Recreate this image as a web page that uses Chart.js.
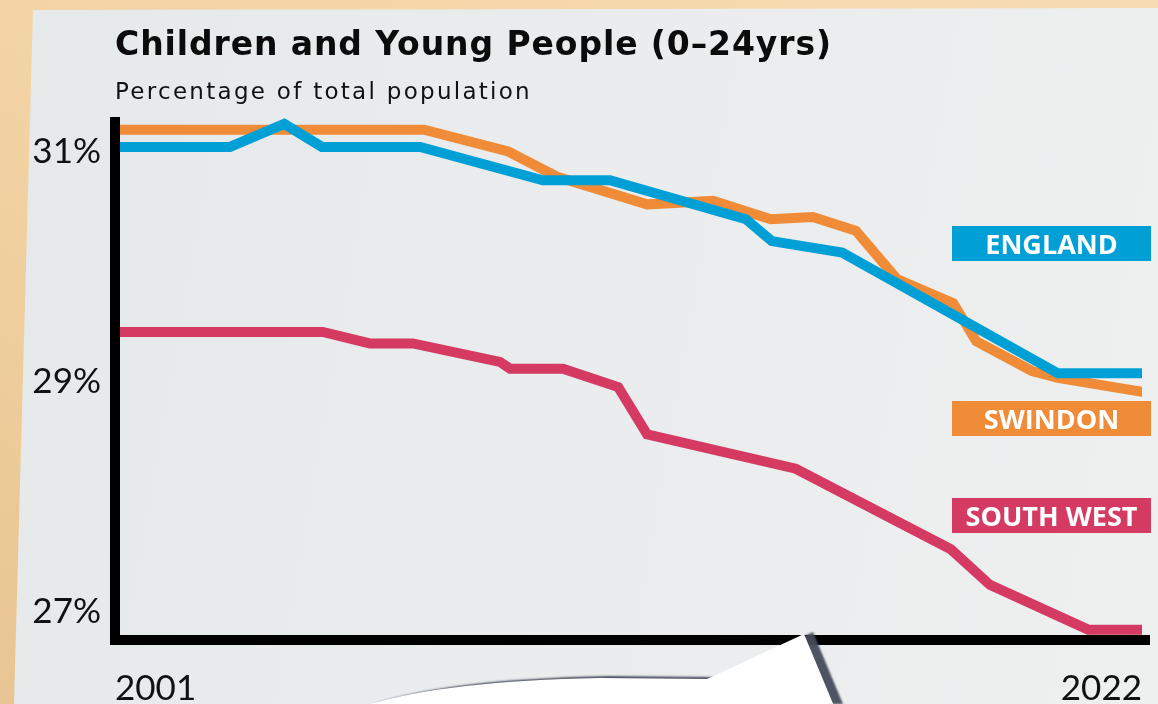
<!DOCTYPE html>
<html lang="en">
<head>
<meta charset="UTF-8">
<title>Children and Young People (0–24yrs)</title>
<script src="https://cdn.jsdelivr.net/npm/chart.js"></script>
<style>
  html, body { margin: 0; padding: 0; }
  body {
    width: 1158px; height: 704px; overflow: hidden; position: relative;
    background: linear-gradient(200deg, #f7dbb1 0%, #f2d2a2 50%, #e8c592 100%);
  }
  #paper {
    position: absolute; left: 0; top: 0; width: 1158px; height: 704px;
    background: linear-gradient(100deg, #e6e9ea 0%, #eaeced 50%, #eef0f0 100%);
    clip-path: polygon(33px 10px, 1158px 8px, 1158px 704px, 14px 704px);
  }
  #chart { position: absolute; left: 0; top: 0; }
  .title {
    position: absolute; left: 115px; top: 27px; margin: 0;
    font-family: 'DejaVu Sans'; font-size: 33px; line-height: 33px; font-weight: 700; color: #0b0b0b;
    white-space: nowrap;
  }
  .subtitle {
    position: absolute; left: 115px; top: 80px; margin: 0;
    font-family: 'DejaVu Sans'; font-size: 23px; line-height: 23px; font-weight: 400; color: #111;
    white-space: nowrap;
  }
  .tag {
    position: absolute; left: 952px; width: 199px; height: 35px;
    display: flex; align-items: center; justify-content: center;
    font-family: 'Open Sans'; color: #fff; font-weight: 700; font-size: 27px; line-height: 27px;
  }
  .tag span { white-space: nowrap; }
</style>
</head>
<body>
  <div id="paper"></div>
  <canvas id="chart" width="1158" height="704"></canvas>
  <h1 class="title"><span id="title-text">Children and Young People (0–24yrs)</span></h1>
  <p class="subtitle"><span id="subtitle-text">Percentage of total population</span></p>
  <div id="tags"></div>
<script>
  // tick labels
  const yearTicks = [2001, 2022];
  const pctTicks = [27, 29, 31];

  // series (year position, % of population)
  const englandYear = [2001, 2003.35, 2004.46, 2005.23, 2007.24, 2009.75, 2011.12, 2013.9, 2014.43, 2015.87, 2020.28, 2022];
  const englandPct  = [31.04, 31.04, 31.24, 31.04, 31.04, 30.75, 30.75, 30.41, 30.22, 30.12, 29.07, 29.07];

  const swindonYear = [2001, 2007.32, 2009.04, 2010.04, 2011.88, 2013.23, 2014.41, 2015.27, 2016.15, 2016.99, 2018.14, 2018.61, 2019.75, 2020.28, 2022];
  const swindonPct  = [31.19, 31.19, 31.0, 30.78, 30.54, 30.57, 30.41, 30.43, 30.31, 29.89, 29.68, 29.35, 29.09, 29.03, 28.91];

  const southWestYear = [2001, 2005.25, 2006.21, 2007.09, 2008.87, 2009.08, 2010.16, 2011.29, 2011.88, 2014.92, 2018.09, 2018.89, 2020.9, 2022];
  const southWestPct  = [29.43, 29.43, 29.33, 29.33, 29.17, 29.11, 29.11, 28.95, 28.54, 28.24, 27.54, 27.23, 26.84, 26.84];

  const seriesNames = ['England', 'Swindon', 'South West'];
  const seriesColors = ['#00a0d7', '#f08b38', '#d53a62'];

  function toPoints(xs, ys) {
    return xs.map((x, i) => ({ x: x, y: ys[i] }));
  }

  // thick black axes drawn over the lines
  const axisLines = {
    id: 'axisLines',
    afterDatasetsDraw(chart) {
      const { ctx, chartArea } = chart;
      ctx.save();
      ctx.fillStyle = '#000';
      ctx.fillRect(chartArea.left - 5, chartArea.top, 10, chartArea.bottom - chartArea.top + 5);
      ctx.fillRect(chartArea.left - 5, chartArea.bottom - 5, chartArea.right - chartArea.left + 13, 10);
      ctx.restore();
    }
  };

  // torn white speech bubble at the bottom
  const bubble = {
    id: 'bubble',
    afterDraw(chart) {
      const ctx = chart.ctx;
      ctx.save();
      ctx.shadowColor = 'rgba(70, 75, 92, 0.95)';
      ctx.shadowOffsetX = 9;
      ctx.shadowOffsetY = -2;
      ctx.shadowBlur = 2;
      ctx.fillStyle = '#ffffff';
      ctx.beginPath();
      ctx.moveTo(365, 706);
      ctx.quadraticCurveTo(440, 681, 600, 678);
      ctx.lineTo(707, 679);
      ctx.lineTo(804, 634);
      ctx.lineTo(834, 706);
      ctx.closePath();
      ctx.fill();
      ctx.restore();
    }
  };

  const datasets = [
    { data: toPoints(englandYear, englandPct) },
    { data: toPoints(swindonYear, swindonPct) },
    { data: toPoints(southWestYear, southWestPct) }
  ].map((d, i) => Object.assign(d, {
    label: seriesNames[i],
    borderColor: seriesColors[i],
    backgroundColor: seriesColors[i],
    borderWidth: 10,
    borderCapStyle: 'round',
    borderJoinStyle: 'miter',
    pointRadius: 0,
    tension: 0,
    fill: false
  }));

  const tickFont = { family: 'Lato', size: 35 };

  const chart = new Chart(document.getElementById('chart'), {
    type: 'line',
    data: { datasets: datasets },
    options: {
      responsive: false,
      animation: false,
      layout: { autoPadding: false, padding: { top: 117, right: 16, bottom: 0, left: 0 } },
      plugins: { legend: { display: false }, tooltip: { enabled: false } },
      scales: {
        x: {
          type: 'linear', min: 2001, max: 2022,
          // tick marks are hidden; tickLength only pushes the labels down
          grid: { display: false, drawTicks: true, tickLength: 28 },
          border: { display: false },
          afterBuildTicks: s => { s.ticks = yearTicks.map(v => ({ value: v })); },
          afterFit: s => { s.height = 64; },
          ticks: {
            align: 'inner', padding: 0, color: '#111', font: tickFont,
            autoSkip: false, maxRotation: 0, callback: v => String(v)
          }
        },
        y: {
          min: 26.75, max: 31.3,
          grid: { display: false, drawTicks: false },
          border: { display: false },
          afterBuildTicks: s => { s.ticks = pctTicks.map(v => ({ value: v })); },
          afterFit: s => { s.width = 115; },
          ticks: { padding: 14, color: '#111', font: tickFont, callback: v => v + '%' }
        }
      }
    },
    plugins: [axisLines, bubble]
  });

  // series name tags, built from the datasets
  const tagTops = [226, 401, 498];
  const tags = document.getElementById('tags');
  chart.data.datasets.forEach((ds, i) => {
    const div = document.createElement('div');
    div.className = 'tag';
    div.style.top = tagTops[i] + 'px';
    div.style.background = ds.borderColor;
    const span = document.createElement('span');
    span.textContent = ds.label.toUpperCase();
    div.appendChild(span);
    tags.appendChild(div);
  });

  function fitWidth(el, target) {
    el.style.letterSpacing = '0px';
    const w = el.getBoundingClientRect().width;
    el.style.letterSpacing = ((target - w) / el.textContent.length) + 'px';
  }
  fitWidth(document.getElementById('title-text'), 717);
  fitWidth(document.getElementById('subtitle-text'), 417);
</script>
</body>
</html>
